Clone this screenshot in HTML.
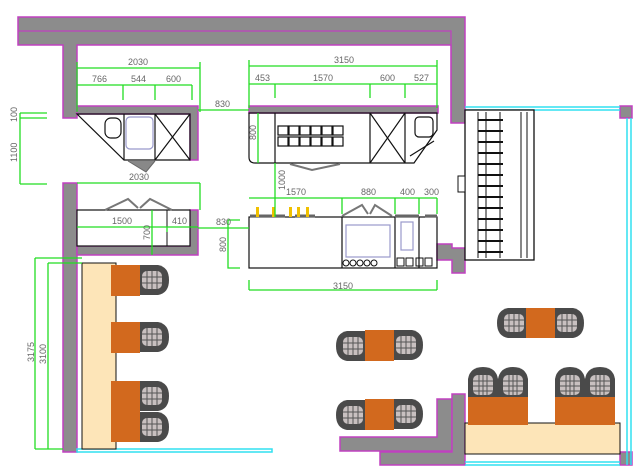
<!DOCTYPE html>
<html><head><meta charset="utf-8"><style>
html,body{margin:0;padding:0;background:#fff;}
svg{display:block;}
text{font-family:"Liberation Sans",sans-serif;font-size:9px;fill:#666;}
</style></head><body>
<svg width="641" height="471" viewBox="0 0 641 471" xmlns="http://www.w3.org/2000/svg">
<defs>
<g id="chR">
 <path d="M0,0 L18,0 Q29,2 29,15 Q29,28 18,30 L0,30 Z" fill="#4a4a4a"/>
 <rect x="2" y="6" width="20" height="18" rx="5" fill="#c8c0c0"/>
 <path d="M7,6 V24 M12,6 V24 M17,6 V24 M2,12 H22 M2,18 H22" stroke="#555" stroke-width="1"/>
</g>
<g id="chU">
 <path d="M0,30 L0,12 Q2,0 15,0 Q28,0 30,12 L30,30 Z" fill="#4a4a4a"/>
 <rect x="5" y="8" width="20" height="20" rx="5" fill="#c8c0c0"/>
 <path d="M5,14 H25 M5,19 H25 M5,24 H25 M11,8 V28 M15,8 V28 M19,8 V28" stroke="#555" stroke-width="1"/>
</g>
</defs>

<g fill="#8c8c8c" stroke="#c040c0" stroke-width="1.5">
<path d="M18,17 H465 V123 H451 V45 H77 V118 H63 V45 H18 Z"/>
<path d="M77,106 H198 V160 H190 V114 H77 Z"/>
<path d="M249,106 H438 V113 H249 Z"/>
<path d="M63,183 H77 V452 H63 Z"/>
<path d="M77,246 H190 V210 H198 V255 H77 Z"/>
<path d="M437,244 H452 V248 H465 V273 H452 V260 H437 Z"/>
<path d="M340,437 H437 V399 H452 V451 H340 Z"/>
<path d="M380,452 H452 V394 H465 V465 H380 Z"/>
<path d="M620,106 H632 V118 H620 Z"/>
<path d="M620,452 H632 V465 H620 Z"/>
</g>
<path d="M18,31 H451 V123" fill="none" stroke="#c040c0" stroke-width="1.2"/>

<g fill="none" stroke="#30e0f0" stroke-width="1.5">
<path d="M465,107 H620 M465,110 H620"/>
<path d="M627,118 V465 M631,118 V465"/>
<path d="M465,462 H620 M465,465 H620"/>
<rect x="77" y="449" width="195" height="3"/>
<path d="M501,112 V258"/>
<path d="M510,190 L520,176 M512,193 L522,179"/>
</g>

<g fill="none" stroke="#111" stroke-width="1.2">
<path d="M77,114 H190 V160 H124 Z"/>
<path d="M124,114 V160 M155,114 V160 M155,114 L190,160 M190,114 L155,160"/>
<rect x="105" y="118" width="16" height="20" rx="6"/>
</g>
<rect x="126" y="117" width="27" height="32" rx="4" fill="none" stroke="#9999cc" stroke-width="1.2"/>
<path d="M128,161 L146,172 L155,161" fill="#888" stroke="#666"/>

<g fill="none" stroke="#111" stroke-width="1.2">
<path d="M249,113 H437 V130 L414,163 H255 Q249,163 249,157 Z"/>
<path d="M275,113 V163 M370,113 V163 M405,113 V163 M370,113 L405,163 M405,113 L370,163"/>
<rect x="415" y="117" width="18" height="20" rx="4"/>
<path d="M410,156 L434,141"/>
</g>
<g fill="#fff" stroke="#111" stroke-width="1.2">
<rect x="278" y="126" width="10" height="9"/><rect x="289" y="126" width="10" height="9"/><rect x="300" y="126" width="10" height="9"/><rect x="311" y="126" width="10" height="9"/><rect x="322" y="126" width="10" height="9"/><rect x="333" y="126" width="10" height="9"/>
<rect x="278" y="137" width="10" height="9"/><rect x="289" y="137" width="10" height="9"/><rect x="300" y="137" width="10" height="9"/><rect x="311" y="137" width="10" height="9"/><rect x="322" y="137" width="10" height="9"/><rect x="333" y="137" width="10" height="9"/>
</g>
<path d="M290,164 L312,170 L340,164" fill="none" stroke="#777" stroke-width="2"/>

<rect x="77" y="210" width="113" height="36" fill="#fff" stroke="#111" stroke-width="1.2"/>
<path d="M167,210 V246" stroke="#111"/>
<path d="M105,210 L128,199 L138,208 M172,210 L150,199 L140,208" fill="none" stroke="#777" stroke-width="2"/>

<g fill="none" stroke="#111" stroke-width="1.2">
<rect x="249" y="217" width="188" height="51"/>
<path d="M342,217 V268 M395,217 V268 M419,217 V268"/>
</g>
<rect x="346" y="225" width="44" height="32" fill="none" stroke="#9999cc" stroke-width="1.2"/>
<rect x="401" y="222" width="12" height="28" fill="none" stroke="#9999cc" stroke-width="1.2"/>
<g fill="none" stroke="#111"><circle cx="346" cy="263" r="3"/><circle cx="353" cy="263" r="3"/><circle cx="360" cy="263" r="3"/><circle cx="367" cy="263" r="3"/><circle cx="374" cy="263" r="3"/>
<rect x="397" y="258" width="7" height="8"/><rect x="406" y="258" width="7" height="8"/><rect x="416" y="258" width="7" height="8"/><rect x="425" y="258" width="7" height="8"/></g>
<path d="M250,216 H285 M295,216 H315 M395,216 H419 M425,216 H437" stroke="#666" stroke-width="3"/>
<g fill="#f0c000"><rect x="256" y="207" width="3" height="10"/><rect x="272" y="207" width="3" height="10"/><rect x="289" y="207" width="3" height="10"/><rect x="297" y="207" width="3" height="10"/><rect x="306" y="207" width="3" height="10"/></g>
<path d="M342,216 L362,205 L368,214 M392,216 L375,205 L370,214" fill="none" stroke="#777" stroke-width="2"/>

<rect x="465" y="110" width="69" height="150" fill="#fff" stroke="#111" stroke-width="1.3"/>
<path d="M478,112 V258 M486,112 V258 M500,112 V258 M521,112 V258 M527,112 V258" stroke="#111"/>
<path d="M478,120 H503 M478,131 H503 M478,142 H503 M478,153 H503 M478,164 H503 M478,175 H503 M478,186 H503 M478,197 H503 M478,208 H503 M478,219 H503 M478,230 H503 M478,241 H503 M478,252 H503" stroke="#111" stroke-width="2"/>
<rect x="458" y="176" width="7" height="16" fill="#fff" stroke="#111"/>

<rect x="82" y="263" width="34" height="186" fill="#fde5b8" stroke="#111"/>
<rect x="465" y="423" width="155" height="31" fill="#fde5b8" stroke="#111"/>

<g fill="#d2691e">
<rect x="111" y="265" width="29" height="31"/><rect x="111" y="322" width="29" height="31"/><rect x="111" y="381" width="29" height="31"/><rect x="111" y="412" width="29" height="30"/>
</g>
<use href="#chR" x="140" y="265"/><use href="#chR" x="140" y="322"/><use href="#chR" x="140" y="381"/><use href="#chR" x="140" y="412"/>

<g fill="#d2691e">
<rect x="365" y="330" width="29" height="31"/><rect x="365" y="399" width="29" height="31"/><rect x="526" y="308" width="29" height="30"/>
<rect x="468" y="397" width="30" height="28"/><rect x="498" y="397" width="30" height="28"/><rect x="555" y="397" width="30" height="28"/><rect x="585" y="397" width="30" height="28"/>
</g>
<use href="#chR" x="394" y="330"/><use href="#chR" x="394" y="399"/><use href="#chR" x="555" y="308"/>
<use href="#chR" transform="translate(365,361) rotate(180)"/><use href="#chR" transform="translate(365,430) rotate(180)"/><use href="#chR" transform="translate(526,338) rotate(180)"/>
<use href="#chU" x="468" y="367"/><use href="#chU" x="498" y="367"/><use href="#chU" x="555" y="367"/><use href="#chU" x="585" y="367"/>

<g stroke="#22dd22" stroke-width="1.3" fill="none">
<path d="M77,68 H200 M77,62 V112 M200,62 V112"/>
<path d="M77,85 H192 M123,85 V100 M155,85 V100 M192,85 V100"/>
<path d="M198,110 H249"/>
<path d="M249,66 H437 M249,60 V108 M437,60 V108"/>
<path d="M249,84 H437 M275,84 V98 M370,84 V98 M405,84 V98"/>
<path d="M20,113 H47 M20,118 H47 M20,184 H47 M20,113 V184"/>
<path d="M77,183 H200 M200,183 V210"/>
<path d="M77,227 H198 M167,227 V232 M152,210 V255"/>
<path d="M198,228 H249 M228,220 H240 M228,220 V268 H240"/>
<path d="M258,113 V163 M275,163 V217"/>
<path d="M249,198 H437 M342,198 V214 M395,198 V214 M419,198 V214 M437,198 V214"/>
<path d="M249,290 H437 M249,280 V290 M437,280 V290"/>
<path d="M35,258 V449 M48,263 V449 M35,258 H82 M48,263 H82 M35,449 H63"/>
</g>
<text x="128" y="65">2030</text>
<text x="92" y="82">766</text><text x="131" y="82">544</text><text x="166" y="82">600</text>
<text x="215" y="107">830</text>
<text x="334" y="63">3150</text>
<text x="255" y="81">453</text><text x="313" y="81">1570</text><text x="380" y="81">600</text><text x="414" y="81">527</text>
<text transform="translate(17,122) rotate(-90)">100</text>
<text transform="translate(17,162) rotate(-90)">1100</text>
<text x="129" y="180">2030</text>
<text x="112" y="224">1500</text><text x="172" y="224">410</text>
<text transform="translate(150,240) rotate(-90)">700</text>
<text x="216" y="225">830</text>
<text transform="translate(226,252) rotate(-90)">800</text>
<text transform="translate(256,140) rotate(-90)">800</text>
<text transform="translate(285,190) rotate(-90)">1000</text>
<text x="286" y="195">1570</text><text x="361" y="195">880</text><text x="400" y="195">400</text><text x="424" y="195">300</text>
<text x="333" y="289">3150</text>
<text transform="translate(34,362) rotate(-90)">3175</text>
<text transform="translate(46,364) rotate(-90)">3100</text>
</svg>
</body></html>
